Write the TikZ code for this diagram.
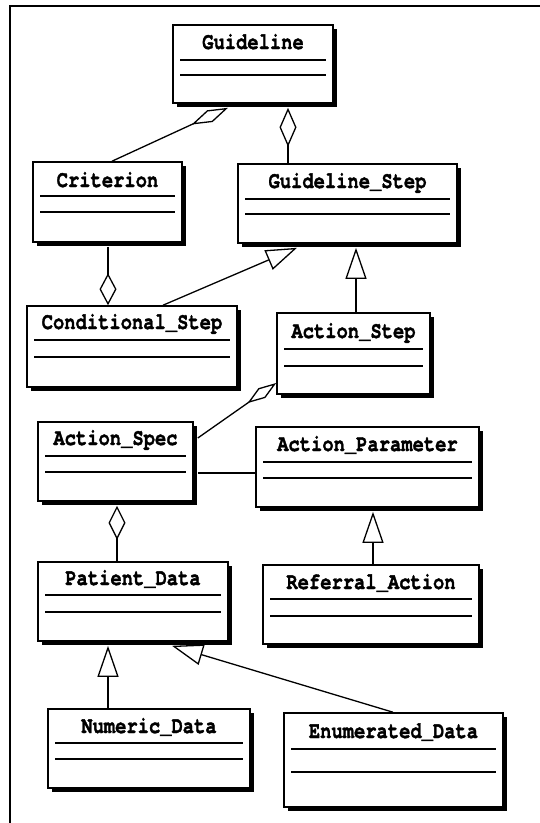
\documentclass[tikz,border=0pt]{standalone}
\usepackage{fontspec}
\usepackage{graphicx}
\newfontfamily\titlefont{TeX Gyre Cursor}[BoldFeatures={FakeBold=1.6}]
\usetikzlibrary{arrows.meta,fit}
\tikzset{
  cls/.style={draw, fill=white, line width=1.6pt, inner sep=0pt},
  cline/.style={line width=1.3pt},
  ttl/.style={font=\titlefont\bfseries\fontsize{18.8}{20}\selectfont, anchor=base, inner sep=0pt},
  conn/.style={line width=1.3pt},
  agg/.style 2 args={conn, -{Diamond[open, length=#1, width=#2, line width=1.3pt]}},
  gen/.style={conn, -{Triangle[open, length=31pt, width=21pt, line width=1.3pt]}},
  frameline/.style={line width=1.8pt}
}
\newcommand\umlbox[9]{%
  \fill[black] (#2+4,#3+4) rectangle (#4+4,#5+4);
  \node[cls, fit={(#2,#3) (#4,#5)}] (#1) {};
  \node[ttl] (#1-t) at ({(#2+#4)/2},#7) {\scalebox{1}[1.25]{#6}};
  \draw[cline] (#2+7,#8) -- (#4-7,#8);
  \draw[cline] (#2+7,#9) -- (#4-7,#9);
}
\begin{document}
\begin{tikzpicture}[x=1pt,y=-1pt]
\useasboundingbox (0,0) rectangle (540,823);
\draw[frameline] (10,823) -- (10,6) -- (540,6);

\umlbox{guideline}{173}{25}{333}{103}{Guideline}{49}{60}{75}
\umlbox{criterion}{33}{162}{182}{242}{Criterion}{187}{196}{212}
\umlbox{guidestep}{238}{164}{457}{243}{Guideline\_Step}{188}{199}{214}
\umlbox{condstep}{27}{306}{237}{387}{Conditional\_Step}{329}{340}{357}
\umlbox{actionstep}{277}{313}{430}{394}{Action\_Step}{338}{349}{366}
\umlbox{actionspec}{38}{422}{193}{501}{Action\_Spec}{445}{456}{472}
\umlbox{actionparam}{256}{427}{479}{507}{Action\_Parameter}{451}{462}{478}
\umlbox{patient}{38}{562}{228}{641}{Patient\_Data}{585}{595}{612}
\umlbox{referral}{263}{565}{479}{644}{Referral\_Action}{589}{599}{616}
\umlbox{numeric}{48}{709}{250}{788}{Numeric\_Data}{733}{743}{759}
\umlbox{enumerated}{284}{713}{503}{807}{Enumerated\_Data}{738}{749}{772}

\draw[agg={40pt}{13pt}] ([xshift=4.5pt]criterion.north) -- ([xshift=-25pt,yshift=-4pt]guideline.south);
\draw[agg={39pt}{17pt}] ([xshift=-59.5pt]guidestep.north) -- ([xshift=35pt,yshift=-4pt]guideline.south);
\draw[agg={32pt}{17pt}] ([xshift=0.5pt,yshift=-4pt]criterion.south) -- ([xshift=-24pt]condstep.north);
\draw[gen] ([xshift=31pt]condstep.north) -- ([xshift=-50.5pt,yshift=-4pt]guidestep.south);
\draw[gen] ([xshift=2.5pt]actionstep.north) -- ([xshift=8.5pt,yshift=-4pt]guidestep.south);
\draw[agg={35pt}{12pt}] ([xshift=4pt,yshift=23.5pt]actionspec.east) -- ([yshift=-29.5pt]actionstep.west);
\draw[conn] ([xshift=4pt,yshift=-11.5pt]actionspec.east) -- ([yshift=-6pt]actionparam.west);
\draw[agg={34pt}{17pt}] ([xshift=-16pt]patient.north) -- ([xshift=1.5pt,yshift=-4pt]actionspec.south);
\draw[gen] ([xshift=2pt]referral.north) -- ([xshift=5.5pt,yshift=-4pt]actionparam.south);
\draw[gen] ([xshift=-41pt]numeric.north) -- ([xshift=-25pt,yshift=-4pt]patient.south);
\draw[gen] ([xshift=-0.5pt]enumerated.north) -- ([xshift=39pt,yshift=-4pt]patient.south);
\end{tikzpicture}
\end{document}
